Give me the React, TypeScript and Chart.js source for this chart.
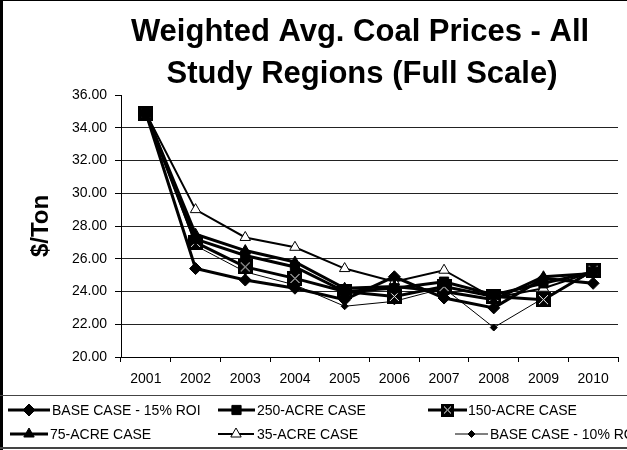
import React, { useEffect, useRef } from "react";
import { Chart, registerables } from "chart.js";
import { drawPoint } from "chart.js/helpers";

Chart.register(...registerables);

const years = ["2001", "2002", "2003", "2004", "2005", "2006", "2007", "2008", "2009", "2010"];
const base15 = [34.9, 25.4, 24.7, 24.2, 23.5, 24.9, 23.6, 23.0, 24.8, 24.5];
const acre250 = [34.9, 27.2, 26.2, 25.5, 24.0, 24.2, 24.6, 23.8, 24.5, 25.2];
const acre150 = [34.9, 27.0, 25.5, 24.8, 24.0, 23.7, 24.3, 23.7, 23.5, 25.3];
const acre75 = [34.9, 27.5, 26.5, 25.8, 24.2, 24.3, 24.0, 23.5, 24.9, 25.1];
const acre35 = [34.9, 29.0, 27.3, 26.7, 25.4, 24.6, 25.3, 23.6, 24.2, 25.2];
const base10 = [34.9, 26.8, 25.2, 24.4, 23.1, 23.4, 24.2, 21.8, 23.6, 25.2];
const seriesNames = [
  "BASE CASE - 15% ROI",
  "250-ACRE CASE",
  "150-ACRE CASE",
  "75-ACRE CASE",
  "35-ACRE CASE",
  "BASE CASE - 10% ROI",
];
const titleLines = ["Weighted Avg. Coal Prices - All", "Study Regions (Full Scale)"];
const yTitle = "$/Ton";
const yMin = 20;
const yMax = 36;
const yStep = 2;

const FONT = '"Liberation Sans", Arial, sans-serif';

function makeXSquare(size: number): HTMLCanvasElement {
  const c = document.createElement("canvas");
  c.width = size;
  c.height = size;
  const g = c.getContext("2d")!;
  g.fillStyle = "#000";
  g.fillRect(0, 0, size, size);
  g.strokeStyle = "#fff";
  g.lineWidth = 1;
  g.beginPath();
  g.moveTo(3, 3);
  g.lineTo(size - 3, size - 3);
  g.moveTo(size - 3, 3);
  g.lineTo(3, size - 3);
  g.stroke();
  return c;
}

const decorPlugin = {
  id: "decor",
  afterDraw(chart: any) {
    const ctx = chart.ctx as CanvasRenderingContext2D;
    const W = chart.width;
    const H = chart.height;
    ctx.save();
    // frame
    ctx.fillStyle = "#000";
    ctx.fillRect(0, 0, 3, H);
    ctx.fillRect(0, 0, W, 1);
    // title
    ctx.fillStyle = "#000";
    ctx.font = `bold 31px ${FONT}`;
    ctx.textAlign = "center";
    ctx.textBaseline = "alphabetic";
    ctx.fillText(titleLines[0], 360, 41);
    ctx.fillText(titleLines[1], 362, 83);
    // legend frame
    ctx.fillStyle = "#444";
    ctx.fillRect(0, 395, W, 1);
    ctx.fillRect(0, 447, W, 2);
    // legend items
    const slots = [
      { lx: 8, len: 42, tx: 52, y: 410 },
      { lx: 218, len: 37, tx: 257, y: 410 },
      { lx: 428, len: 39, tx: 468, y: 410 },
      { lx: 10, len: 38, tx: 50, y: 434 },
      { lx: 218, len: 36, tx: 257, y: 434 },
      { lx: 455, len: 33, tx: 490, y: 434 },
    ];
    chart.data.datasets.forEach((ds: any, i: number) => {
      const s = slots[i];
      if (!s) return;
      ctx.strokeStyle = "#000";
      ctx.lineWidth = ds.borderWidth;
      ctx.beginPath();
      ctx.moveTo(s.lx, s.y);
      ctx.lineTo(s.lx + s.len, s.y);
      ctx.stroke();
      ctx.fillStyle = ds.pointBackgroundColor;
      ctx.strokeStyle = ds.pointBorderColor;
      ctx.lineWidth = ds.pointBorderWidth;
      drawPoint(
        ctx,
        {
          pointStyle: ds.legendStyle ?? ds.pointStyle,
          radius: ds.pointRadius,
          rotation: 0,
          borderWidth: ds.pointBorderWidth,
        } as any,
        s.lx + s.len / 2,
        s.y
      );
      ctx.fillStyle = "#000";
      ctx.font = `14px ${FONT}`;
      ctx.textAlign = "left";
      ctx.textBaseline = "middle";
      ctx.fillText(ds.label, s.tx, s.y + 1);
    });
    ctx.restore();
  },
};

export default function App() {
  const ref = useRef<HTMLCanvasElement>(null);
  useEffect(() => {
    if (!ref.current) return;
    const xSquare = makeXSquare(15);
    const xSquareSmall = makeXSquare(13);
    const common = {
      borderColor: "#000",
      pointBorderColor: "#000",
      tension: 0,
      fill: false,
    };
    const chart = new Chart(ref.current, {
      type: "line",
      data: {
        labels: years,
        datasets: [
          { ...common, label: seriesNames[0], data: base15, borderWidth: 3, pointStyle: "rectRot", pointRadius: 6, pointBackgroundColor: "#000", pointBorderWidth: 1 },
          { ...common, label: seriesNames[1], data: acre250, borderWidth: 3, pointStyle: "rect", pointRadius: 6.5, pointBackgroundColor: "#000", pointBorderWidth: 1 },
          { ...common, label: seriesNames[2], data: acre150, borderWidth: 3, pointStyle: xSquare, pointRadius: 8, pointBackgroundColor: "#000", pointBorderWidth: 1, legendStyle: xSquareSmall },
          { ...common, label: seriesNames[3], data: acre75, borderWidth: 3, pointStyle: "triangle", pointRadius: 6, pointBackgroundColor: "#000", pointBorderWidth: 1 },
          { ...common, label: seriesNames[4], data: acre35, borderWidth: 2, pointStyle: "triangle", pointRadius: 6, pointBackgroundColor: "#fff", pointBorderWidth: 1 },
          { ...common, label: seriesNames[5], data: base10, borderWidth: 1, pointStyle: "rectRot", pointRadius: 3.5, pointBackgroundColor: "#000", pointBorderWidth: 1 },
        ] as any,
      },
      options: {
        animation: false,
        responsive: false,
        devicePixelRatio: 1,
        events: [],
        layout: { padding: { top: 95, right: 6, bottom: 63, left: 0 } },
        plugins: {
          legend: { display: false },
          title: { display: false },
          tooltip: { enabled: false },
        },
        scales: {
          x: {
            type: "category",
            offset: true,
            afterFit: (s: any) => {
              s.height = 30;
            },
            grid: {
              display: true,
              offset: true,
              drawOnChartArea: false,
              drawTicks: true,
              tickLength: 5,
              color: "#000",
            },
            border: { display: true, color: "#000", width: 1 },
            ticks: {
              color: "#000",
              font: { family: FONT, size: 14 },
              padding: 9,
              maxRotation: 0,
              autoSkip: false,
            },
          },
          y: {
            min: yMin,
            max: yMax,
            afterFit: (s: any) => {
              s.width = 121;
            },
            ticks: {
              stepSize: yStep,
              color: "#000",
              font: { family: FONT, size: 14 },
              padding: 8,
              callback: (v: any) => Number(v).toFixed(2),
            },
            grid: {
              color: (c: any) => (c.tick && c.tick.value === yMax ? "rgba(0,0,0,0)" : "#222"),
              tickColor: "#000",
              tickLength: 6,
              lineWidth: 1,
            },
            border: { display: true, color: "#000", width: 1 },
            title: {
              display: true,
              text: yTitle,
              color: "#000",
              font: { family: FONT, size: 24, weight: "bold" },
              padding: { top: 27, bottom: 0 },
            },
          },
        },
      },
      plugins: [decorPlugin],
    } as any);
    return () => chart.destroy();
  }, []);
  return (
    <div style={{ position: "absolute", left: 0, top: 0, width: 627, height: 450, background: "#fff" }}>
      <canvas ref={ref} width={627} height={450} style={{ display: "block" }} />
    </div>
  );
}
